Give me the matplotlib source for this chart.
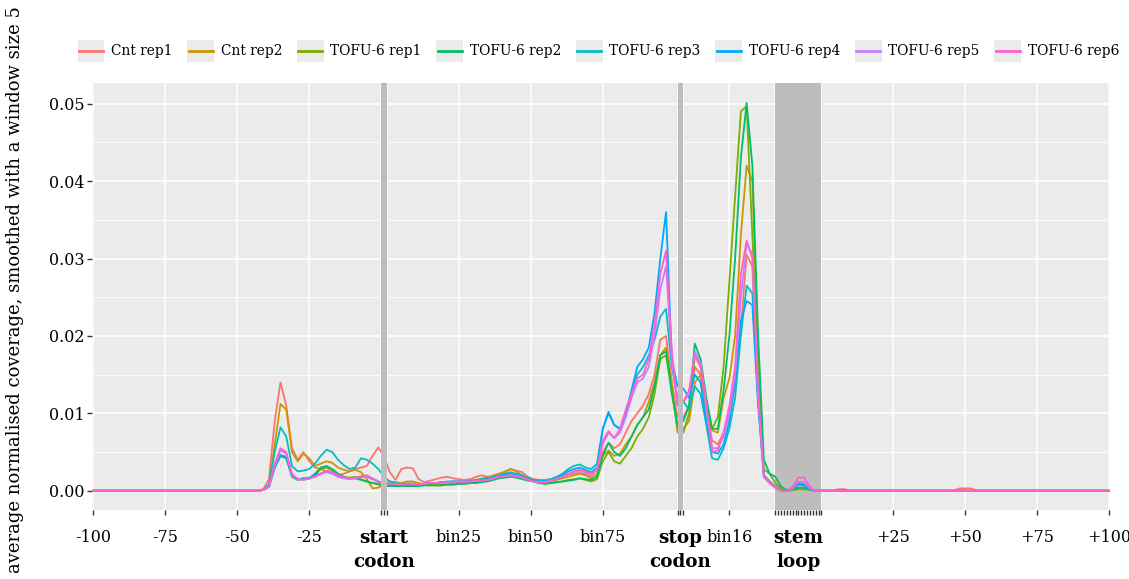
import numpy as np
import matplotlib.pyplot as plt
from matplotlib.lines import Line2D
from matplotlib.patches import Rectangle
from matplotlib.legend_handler import HandlerLine2D

plt.rcParams["font.family"] = ["DejaVu Serif"]

# positions along the metagene: -100..-1 upstream, start codon (0-2), CDS bins 1-100,
# stop codon (103-105), 3'UTR bins, stem loop (137-153), +1..+100 downstream
x_pos = ([-100] + list(range(-43, 152, 2))
         + [157, 159, 161, 163, 199, 201, 203, 205, 207, 253])

# coverage values in units of 1e-4
cnt_rep1 = ([0]
    + [0, 2, 15, 90, 140, 110, 55, 40, 50, 38]
    + [30, 28, 25, 22, 20, 22, 25, 28, 30, 32]
    + [45, 56, 44, 24, 14, 28, 30, 29, 15, 11]
    + [13, 15, 17, 18, 16, 15, 14, 15, 18, 20]
    + [18, 19, 22, 25, 28, 26, 24, 18, 15, 14]
    + [14, 15, 17, 19, 21, 22, 23, 22, 19, 28]
    + [50, 62, 55, 60, 75, 90, 100, 110, 125, 150]
    + [195, 200, 140, 95, 95, 110, 160, 150, 105, 65]
    + [60, 75, 100, 135, 210, 305, 290, 120, 20, 12]
    + [6, 1, 0, 3, 10, 9, 2, 0]
    + [0, 2, 2, 0, 0, 3, 3, 3, 0, 0])
cnt_rep2 = ([0]
    + [0, 1, 8, 60, 112, 105, 50, 38, 48, 42]
    + [32, 35, 38, 36, 30, 27, 25, 27, 24, 15]
    + [3, 4, 8, 12, 11, 10, 12, 12, 10, 8]
    + [8, 7, 7, 8, 10, 12, 11, 12, 14, 16]
    + [17, 20, 22, 24, 28, 25, 20, 16, 12, 10]
    + [10, 12, 14, 16, 18, 20, 22, 20, 16, 22]
    + [45, 52, 45, 48, 60, 70, 85, 95, 115, 140]
    + [175, 185, 140, 75, 80, 90, 140, 150, 110, 78]
    + [75, 120, 145, 200, 330, 420, 400, 170, 20, 10]
    + [4, 0, 0, 1, 3, 3, 1, 0]
    + [0, 0, 0, 0, 0, 0, 0, 0, 0, 0])
tofu_rep1 = ([0]
    + [0, 1, 6, 30, 46, 42, 20, 15, 16, 15]
    + [20, 28, 30, 26, 20, 17, 17, 18, 15, 12]
    + [10, 8, 6, 6, 6, 7, 6, 6, 7, 7]
    + [7, 7, 8, 8, 8, 9, 9, 10, 11, 12]
    + [13, 15, 17, 18, 19, 18, 16, 14, 12, 10]
    + [9, 10, 11, 12, 14, 15, 16, 14, 12, 15]
    + [38, 50, 38, 35, 45, 55, 70, 80, 95, 125]
    + [170, 175, 130, 80, 75, 100, 175, 160, 110, 80]
    + [95, 160, 270, 380, 490, 497, 330, 150, 28, 22]
    + [10, 2, 0, 1, 2, 2, 1, 0]
    + [0, 0, 0, 0, 0, 0, 0, 0, 0, 0])
tofu_rep2 = ([0]
    + [0, 1, 6, 30, 45, 42, 18, 14, 16, 16]
    + [22, 30, 32, 28, 22, 18, 16, 16, 14, 12]
    + [10, 9, 7, 6, 6, 6, 6, 6, 6, 7]
    + [7, 7, 7, 8, 8, 9, 9, 10, 10, 11]
    + [12, 14, 16, 17, 18, 17, 15, 13, 12, 10]
    + [9, 10, 11, 12, 13, 14, 16, 15, 14, 18]
    + [45, 62, 50, 45, 55, 70, 85, 95, 105, 135]
    + [175, 180, 125, 85, 90, 110, 190, 170, 120, 80]
    + [80, 130, 200, 300, 430, 501, 420, 200, 40, 22]
    + [18, 5, 1, 2, 4, 4, 2, 0]
    + [0, 0, 0, 0, 0, 0, 0, 0, 0, 0])
tofu_rep3 = ([0]
    + [0, 1, 8, 50, 82, 70, 32, 25, 26, 28]
    + [35, 45, 53, 50, 40, 33, 28, 30, 42, 40]
    + [35, 28, 18, 12, 10, 9, 9, 9, 8, 9]
    + [10, 10, 11, 12, 12, 12, 12, 13, 14, 15]
    + [16, 18, 20, 22, 24, 22, 20, 16, 14, 13]
    + [13, 15, 18, 22, 28, 32, 34, 30, 28, 35]
    + [80, 100, 85, 80, 100, 125, 150, 160, 175, 195]
    + [225, 235, 160, 120, 115, 105, 135, 125, 85, 42]
    + [40, 55, 80, 120, 200, 265, 255, 120, 20, 12]
    + [5, 0, 0, 3, 8, 7, 2, 0]
    + [0, 0, 0, 0, 0, 0, 0, 0, 0, 0])
tofu_rep4 = ([0]
    + [0, 1, 5, 30, 46, 44, 20, 15, 15, 17]
    + [20, 22, 25, 24, 20, 17, 16, 17, 18, 18]
    + [15, 12, 10, 9, 8, 8, 9, 9, 8, 9]
    + [10, 10, 11, 11, 12, 12, 12, 13, 13, 14]
    + [15, 17, 19, 21, 22, 20, 18, 15, 13, 12]
    + [12, 14, 16, 20, 25, 28, 30, 27, 24, 30]
    + [80, 102, 85, 80, 100, 130, 160, 170, 185, 230]
    + [300, 360, 170, 135, 132, 120, 150, 140, 90, 50]
    + [48, 60, 90, 140, 220, 245, 240, 110, 18, 10]
    + [4, 0, 0, 3, 9, 8, 2, 0]
    + [0, 0, 0, 0, 0, 0, 0, 0, 0, 0])
tofu_rep5 = ([0]
    + [0, 1, 5, 32, 52, 48, 20, 15, 14, 16]
    + [18, 22, 24, 22, 18, 16, 15, 16, 18, 18]
    + [15, 12, 10, 9, 9, 8, 9, 9, 8, 9]
    + [10, 10, 10, 11, 11, 12, 12, 12, 13, 13]
    + [14, 16, 18, 19, 20, 19, 17, 14, 12, 11]
    + [11, 13, 15, 18, 21, 24, 26, 24, 22, 26]
    + [60, 75, 68, 75, 95, 120, 140, 145, 160, 200]
    + [260, 290, 170, 110, 115, 125, 180, 165, 110, 55]
    + [55, 70, 100, 150, 250, 320, 305, 130, 18, 10]
    + [4, 0, 0, 3, 12, 11, 3, 0]
    + [0, 0, 0, 0, 0, 0, 0, 0, 0, 0])
tofu_rep6 = ([0]
    + [0, 1, 5, 35, 55, 50, 22, 15, 14, 16]
    + [18, 22, 26, 24, 20, 17, 16, 17, 19, 20]
    + [16, 12, 10, 9, 9, 8, 9, 9, 8, 9]
    + [10, 10, 10, 11, 11, 12, 12, 12, 13, 13]
    + [14, 16, 18, 19, 20, 19, 17, 14, 12, 11]
    + [11, 13, 15, 18, 22, 25, 27, 25, 22, 28]
    + [65, 77, 68, 80, 105, 125, 145, 150, 170, 215]
    + [280, 310, 180, 110, 115, 130, 175, 160, 110, 50]
    + [52, 75, 110, 160, 280, 323, 300, 120, 18, 10]
    + [5, 0, 0, 5, 17, 17, 5, 0]
    + [0, 0, 0, 0, 0, 0, 0, 0, 0, 0])

series_names = ["Cnt rep1", "Cnt rep2", "TOFU-6 rep1", "TOFU-6 rep2",
                "TOFU-6 rep3", "TOFU-6 rep4", "TOFU-6 rep5", "TOFU-6 rep6"]
series_values = [cnt_rep1, cnt_rep2, tofu_rep1, tofu_rep2,
                 tofu_rep3, tofu_rep4, tofu_rep5, tofu_rep6]
colors = ["#F8766D", "#CD9600", "#7CAE00", "#00BE67",
          "#00BFC4", "#00A9FF", "#C77CFF", "#FF61CC"]

# feature positions
start_codon = [0, 1, 2]
stop_codon = [103, 104, 105]
stem_loop = list(range(137, 154))

tick_pos = ([-100, -75, -50, -25] + start_codon + [27, 52, 77] + stop_codon
            + [121] + stem_loop + [178, 203, 228, 253])
tick_lab = (["-100", "-75", "-50", "-25", "", "start\ncodon", "", "bin25", "bin50", "bin75",
             "", "stop\ncodon", "", "bin16"]
            + ["stem\nloop" if p == 145 else "" for p in stem_loop]
            + ["+25", "+50", "+75", "+100"])
bold_labels = {"start\ncodon", "stop\ncodon", "stem\nloop"}


class KeyHandler(HandlerLine2D):
    """ggplot-like legend key: grey box with a horizontal line."""
    def create_artists(self, legend, orig_handle, xdescent, ydescent,
                       width, height, fontsize, trans):
        box = Rectangle((-xdescent, -ydescent), width, height,
                        facecolor="#EBEBEB", edgecolor="none", transform=trans)
        y = -ydescent + height / 2
        line = Line2D([-xdescent + 1, -xdescent + width - 1], [y, y],
                      color=orig_handle.get_color(), lw=2.0, transform=trans)
        return [box, line]


fig = plt.figure(figsize=(11.29, 5.79), dpi=100)
ax = fig.add_axes([0.0815, 0.119, 0.9017, 0.738])
ax.set_facecolor("#EBEBEB")

ax.set_xlim(-100.5, 253.3)
ax.set_ylim(-0.0025, 0.0527)

ax.set_yticks([0.0, 0.01, 0.02, 0.03, 0.04, 0.05])
ax.set_yticklabels(["0.00", "0.01", "0.02", "0.03", "0.04", "0.05"])
ax.set_yticks([0.005, 0.015, 0.025, 0.035, 0.045], minor=True)
ax.set_xticks(tick_pos)
ax.set_xticklabels(tick_lab)
for lab in ax.get_xticklabels():
    if lab.get_text() in bold_labels:
        lab.set_fontweight("bold")
        lab.set_fontsize(13.2)
        lab.set_linespacing(1.45)
    else:
        lab.set_fontsize(11.5)
for lab in ax.get_yticklabels():
    lab.set_fontsize(11.5)

ax.grid(which="major", color="white", lw=1.1)
ax.grid(which="minor", axis="y", color="white", lw=0.55)
ax.set_axisbelow(True)
for s in ax.spines.values():
    s.set_visible(False)
ax.tick_params(which="major", length=3.5, width=1.0, color="#333333")
ax.tick_params(axis="x", pad=10)
ax.tick_params(axis="y", pad=2)
ax.tick_params(which="minor", length=0)

ax.axvspan(min(stem_loop), max(stem_loop), color="#BDBDBD", lw=0, zorder=1)

handles = []
for name, vals, col in zip(series_names, series_values, colors):
    h, = ax.plot(x_pos, np.array(vals) * 1e-4, color=col, lw=1.3, label=name, zorder=2)
    handles.append(h)

for codon in (start_codon, stop_codon):
    ax.axvspan(min(codon), max(codon), color="#BDBDBD", lw=0, zorder=3)

ax.set_ylabel("average normalised coverage, smoothed with a window size 5", fontsize=13)
ax.yaxis.set_label_coords(-0.067, 0.515)

fig.legend(handles=handles, loc="center", bbox_to_anchor=(0.530, 0.912), ncol=8, frameon=False,
           fontsize=9.9, handler_map={Line2D: KeyHandler()}, handlelength=1.95,
           handleheight=2.0, handletextpad=0.5, columnspacing=1.05)

fig.savefig("out.png", dpi=100)
